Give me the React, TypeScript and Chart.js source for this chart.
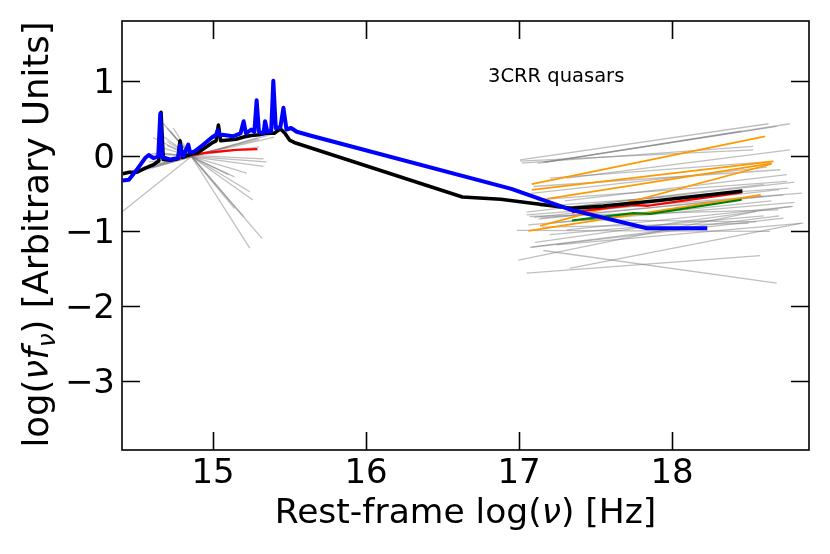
import React, { useEffect, useRef } from "react";
import Chart from "chart.js/auto";

// axis ranges and ticks
const xMin = 14.405;
const xMax = 18.895;
const yMin = -3.92;
const yMax = 1.796;
const xTicks = [15, 16, 17, 18];
const yTicks = [1, 0, -1, -2, -3];

// mean SED (blue)
const blueX = [14.41, 14.45, 14.5, 14.556, 14.58, 14.61, 14.642, 14.655, 14.668, 14.686, 14.72, 14.773, 14.784, 14.806, 14.838, 14.85, 14.88, 14.937, 14.99, 15.02, 15.03, 15.045, 15.06, 15.13, 15.18, 15.2, 15.215, 15.25, 15.27, 15.285, 15.3, 15.33, 15.34, 15.355, 15.38, 15.394, 15.41, 15.44, 15.46, 15.48, 15.51, 15.547, 15.634, 16.95, 17.34, 17.835, 18.23];
const blueY = [-0.33, -0.32, -0.19, -0.03, 0.01, -0.03, -0.01, 0.56, -0.02, -0.03, -0.05, -0.03, 0.14, -0.01, 0.15, 0.04, 0.06, 0.15, 0.24, 0.28, 0.34, 0.27, 0.28, 0.26, 0.3, 0.46, 0.3, 0.35, 0.32, 0.74, 0.32, 0.3, 0.46, 0.32, 0.33, 1.0, 0.37, 0.38, 0.64, 0.35, 0.37, 0.32, 0.27, -0.44, -0.72, -0.965, -0.965];

// template SED (black)
const blackX = [14.41, 14.45, 14.5, 14.56, 14.61, 14.645, 14.66, 14.675, 14.72, 14.77, 14.784, 14.8, 14.85, 14.9, 14.95, 15.0, 15.02, 15.035, 15.05, 15.1, 15.15, 15.2, 15.25, 15.3, 15.35, 15.4, 15.44, 15.47, 15.5, 15.54, 16.63, 16.88, 17.34, 17.55, 17.9, 18.46];
const blackY = [-0.24, -0.22, -0.22, -0.16, -0.12, -0.07, 0.58, -0.05, -0.06, -0.04, 0.2, -0.02, 0.02, 0.04, 0.11, 0.18, 0.2, 0.41, 0.2, 0.21, 0.22, 0.25, 0.27, 0.28, 0.3, 0.3, 0.36, 0.3, 0.21, 0.17, -0.55, -0.58, -0.7, -0.67, -0.6, -0.47];

// median slopes (red, green)
const redUvX = [14.73, 14.85, 14.95, 15.05, 15.15, 15.29];
const redUvY = [-0.06, 0.0, 0.04, 0.06, 0.08, 0.09];
const redXrayX = [17.345, 17.55, 17.747, 17.845, 18.1, 18.455];
const redXrayY = [-0.755, -0.7, -0.653, -0.666, -0.59, -0.489];
const greenX = [17.345, 17.55, 17.747, 17.856, 18.455];
const greenY = [-0.862, -0.81, -0.764, -0.773, -0.586];

type Seg = [number, number, number, number];

// x-ray power laws, highlighted (orange)
const orangeSegs: Seg[] = [
  [17.083, -0.377, 18.608, 0.258],
  [17.083, -0.453, 18.662, -0.075],
  [17.181, -0.573, 18.65, -0.1],
  [17.137, -0.933, 18.65, -0.11],
  [17.061, -1.0, 18.58, -0.52],
];

// individual x-ray power laws (grey)
const grayXraySegs: Seg[] = [
  [17.007, -0.053, 18.63, 0.427],
  [17.018, -0.097, 18.53, 0.125],
  [17.17, -0.089, 18.77, 0.427],
  [17.159, -0.089, 18.684, 0.391],
  [17.007, -0.07, 18.53, 0.08],
  [17.312, -0.297, 18.77, 0.08],
  [17.203, -0.297, 18.662, -0.075],
  [17.094, -0.409, 18.706, -0.186],
  [17.116, -0.586, 18.75, -0.342],
  [17.137, -0.675, 18.76, -0.431],
  [17.05, -0.786, 18.848, -0.497],
  [17.137, -0.831, 18.728, -0.52],
  [17.127, -0.844, 18.597, -0.542],
  [17.07, -0.809, 18.695, -0.72],
  [16.985, -0.995, 18.64, -1.008],
  [17.312, -0.986, 18.79, -0.675],
  [17.105, -1.155, 18.78, -0.675],
  [17.083, -1.217, 18.728, -0.831],
  [17.246, -1.186, 18.858, -0.897],
  [17.159, -1.262, 18.684, -1.697],
  [16.996, -1.39, 18.55, -0.74],
  [17.33, -1.5, 18.84, -0.9],
  [17.05, -1.564, 18.575, -1.329],
  [17.07, -1.22, 18.7, -0.8],
  [17.05, -0.75, 18.6, -0.38],
  [17.1, -0.82, 18.7, -0.45],
  [17.2, -0.9, 18.65, -0.6],
  [17.15, -0.95, 18.5, -0.9],
  [17.25, -0.7, 18.8, -0.35],
  [17.08, -0.5, 18.62, -0.15],
  [17.3, -0.6, 18.75, -0.25],
  [17.2, -1.05, 18.6, -0.8],
  [17.12, -0.1, 18.45, 0.33],
  [17.4, -0.85, 18.55, -0.88],
  [17.06, -0.92, 18.8, -0.62],
];

// individual optical/UV slopes (grey)
const grayUvSegs: Seg[] = [
  [14.55, -0.19, 15.29, 0.24],
  [14.6, -0.16, 15.37, 0.28],
  [14.62, 0.03, 15.33, -0.04],
  [14.6, 0.03, 15.35, -0.08],
  [14.63, 0.05, 15.33, -0.14],
  [14.65, 0.12, 15.22, -0.23],
  [14.7, 0.14, 15.14, -0.28],
  [14.7, 0.19, 15.24, -0.48],
  [14.68, 0.25, 15.26, -0.59],
  [14.72, 0.33, 15.14, -0.7],
  [14.7, 0.37, 15.2, -0.81],
  [14.675, 0.43, 15.32, -1.1],
  [14.74, 0.37, 15.24, -1.23],
  [14.41, -0.74, 14.95, 0.14],
  [14.52, -0.19, 15.1, 0.12],
  [14.48, -0.21, 15.0, 0.07],
  [14.61, 0.24, 15.1, -0.25],
  [14.65, -0.1, 15.3, 0.22],
  [14.58, -0.08, 15.3, 0.12],
  [14.62, -0.12, 15.4, 0.25],
];

const FONT = '"DejaVu Sans"';
const TICK = 18;

const pts = (xs: number[], ys: number[]) => xs.map((x, i) => ({ x, y: ys[i] }));
const segPts = (s: Seg) => [
  { x: s[0], y: s[1] },
  { x: s[2], y: s[3] },
];
const line = (data: { x: number; y: number }[], color: string, width: number) => ({
  data,
  borderColor: color,
  borderWidth: width,
  pointRadius: 0,
  fill: false,
  tension: 0,
  borderJoinStyle: "round" as const,
  borderCapStyle: "butt" as const,
});

type Part = { t: string; it?: boolean; sub?: boolean };

// draws text made of normal / italic / subscript pieces, centred on cx
const drawRich = (ctx: CanvasRenderingContext2D, parts: Part[], cx: number, base: number, size: number) => {
  const fontOf = (p: Part) => `${p.it ? "italic " : ""}${p.sub ? size * 0.7 : size}px ${FONT}`;
  let w = 0;
  parts.forEach((p) => {
    ctx.font = fontOf(p);
    w += ctx.measureText(p.t).width;
  });
  let x = cx - w / 2;
  ctx.textAlign = "left";
  ctx.textBaseline = "alphabetic";
  parts.forEach((p) => {
    ctx.font = fontOf(p);
    ctx.fillText(p.t, x, base + (p.sub ? size * 0.2 : 0));
    x += ctx.measureText(p.t).width;
  });
};

const framePlugin = {
  id: "frame",
  afterDraw(chart: Chart) {
    const { ctx, chartArea: a } = chart;
    const xs = chart.scales.x;
    const ys = chart.scales.y;
    ctx.save();
    ctx.strokeStyle = "#000";
    ctx.lineWidth = 1.6;
    ctx.strokeRect(a.left, a.top, a.right - a.left, a.bottom - a.top);

    // inward ticks on all four sides
    ctx.beginPath();
    xTicks.forEach((v) => {
      const px = Math.round(xs.getPixelForValue(v)) + 0.5;
      ctx.moveTo(px, a.bottom);
      ctx.lineTo(px, a.bottom - TICK);
      ctx.moveTo(px, a.top);
      ctx.lineTo(px, a.top + TICK);
    });
    yTicks.forEach((v) => {
      const py = Math.round(ys.getPixelForValue(v)) + 0.5;
      ctx.moveTo(a.left, py);
      ctx.lineTo(a.left + TICK, py);
      ctx.moveTo(a.right, py);
      ctx.lineTo(a.right - TICK, py);
    });
    ctx.stroke();

    // tick labels
    ctx.fillStyle = "#000";
    ctx.font = `34px ${FONT}`;
    ctx.textBaseline = "alphabetic";
    ctx.textAlign = "center";
    xTicks.forEach((v) => ctx.fillText(String(v), xs.getPixelForValue(v), a.bottom + 33));
    ctx.textAlign = "right";
    yTicks.forEach((v) => ctx.fillText(String(v).replace("-", "\u2212"), a.left - 7, ys.getPixelForValue(v) + 12));

    // axis titles
    const cx = (a.left + a.right) / 2;
    drawRich(ctx, [{ t: "Rest-frame log(" }, { t: "\u03bd", it: true }, { t: ") [Hz]" }], cx, a.bottom + 73, 34.5);
    ctx.save();
    ctx.translate(48, (a.top + a.bottom) / 2 - 1);
    ctx.rotate(-Math.PI / 2);
    drawRich(
      ctx,
      [{ t: "log(" }, { t: "\u03bdf", it: true }, { t: "\u03bd", it: true, sub: true }, { t: ") [Arbitrary Units]" }],
      0,
      0,
      35.5
    );
    ctx.restore();

    // annotation
    ctx.font = `19.5px ${FONT}`;
    ctx.textAlign = "left";
    ctx.fillText("3CRR quasars", 488, 82);
    ctx.restore();
  },
};

const App = () => {
  const canvasRef = useRef<HTMLCanvasElement>(null);

  useEffect(() => {
    if (!canvasRef.current) return;
    const grey = "rgba(128,128,128,0.5)";
    const datasets = [
      line(pts(blueX, blueY), "#0000ff", 4),
      line(pts(blackX, blackY), "#000000", 3.6),
      line(pts(redUvX, redUvY), "#ff0000", 2.2),
      line(pts(redXrayX, redXrayY), "#ff0000", 2.2),
      line(pts(greenX, greenY), "#008000", 2.2),
      ...orangeSegs.map((s) => line(segPts(s), "#ff9900", 1.7)),
      ...grayXraySegs.map((s) => line(segPts(s), grey, 1.3)),
      ...grayUvSegs.map((s) => line(segPts(s), grey, 1.3)),
    ];

    const chart = new Chart(canvasRef.current, {
      type: "line",
      data: { datasets },
      options: {
        responsive: false,
        animation: false,
        layout: { padding: { left: 122, top: 21, right: 21, bottom: 104 } },
        scales: {
          x: { type: "linear", min: xMin, max: xMax, display: false },
          y: { type: "linear", min: yMin, max: yMax, display: false },
        },
        plugins: { legend: { display: false }, tooltip: { enabled: false } },
      },
      plugins: [framePlugin],
    });

    return () => chart.destroy();
  }, []);

  return (
    <div style={{ position: "fixed", left: 0, top: 0, width: 830, height: 554, background: "#fff" }}>
      <canvas ref={canvasRef} width={830} height={554} />
    </div>
  );
};

export default App;
